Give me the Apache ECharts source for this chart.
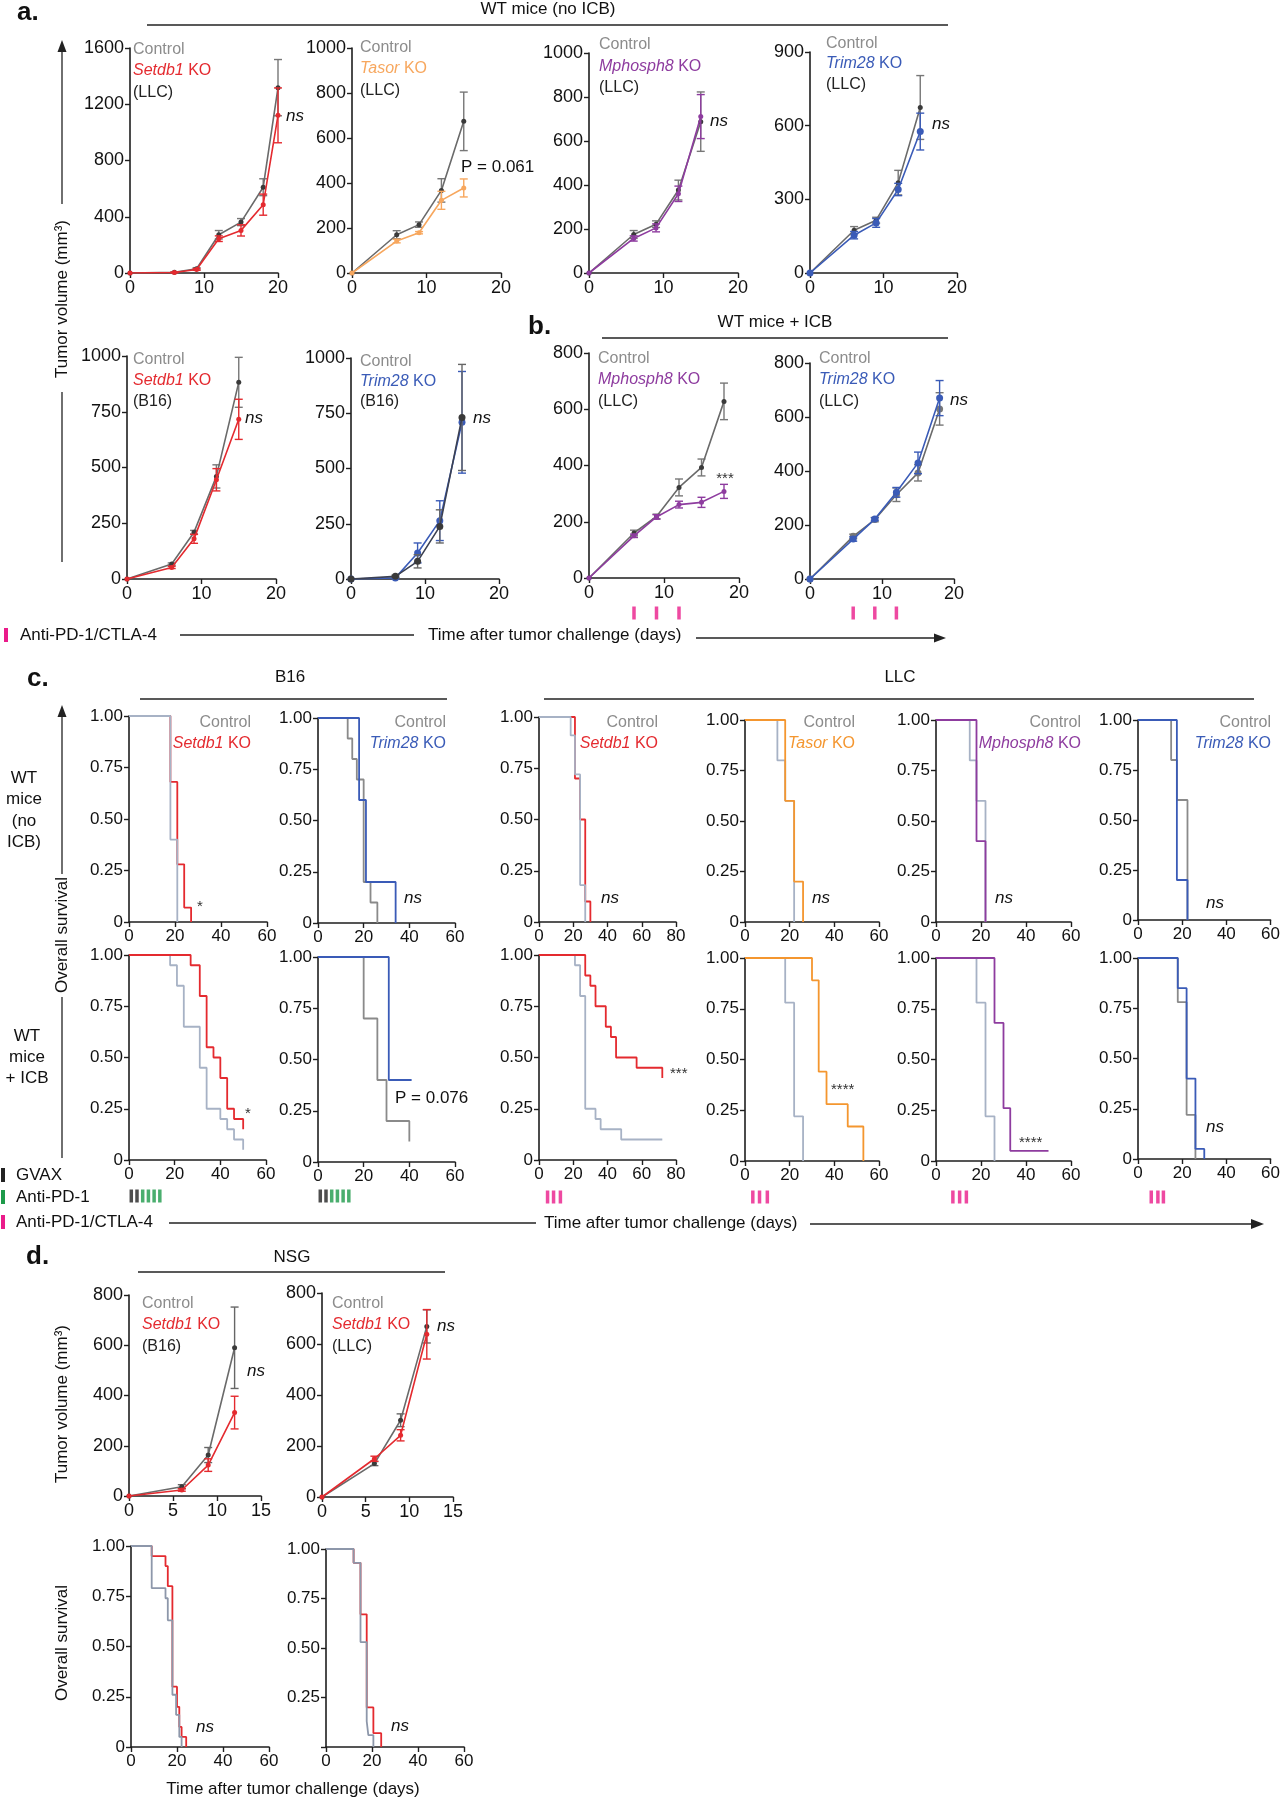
<!DOCTYPE html>
<html><head><meta charset="utf-8">
<script src="https://cdn.jsdelivr.net/npm/echarts@6/dist/echarts.min.js"></script>
<style>html,body{margin:0;padding:0;background:#fff}#c{width:1283px;height:1800px}</style>
</head><body><div id="c"></div>
<script>
// ---------------- DATA ----------------
// Panel a: tumour volume (mm3), WT mice (no ICB)
const a1Days = [0, 6, 9, 12, 15, 18, 20];
const a1Ctrl = [0, 5, 30, 272, 362, 610, 1318];
const a1CtrlErr = [0, 3, 8, 30, 25, 60, 200];
const a1KO = [0, 4, 25, 244, 303, 486, 1121];
const a1KOErr = [0, 3, 6, 20, 40, 75, 195];

const a2Days = [0, 6, 9, 12, 15];
const a2Ctrl = [0, 170, 215, 367, 674];
const a2CtrlErr = [0, 18, 12, 52, 130];
const a2KO = [0, 142, 179, 323, 378];
const a2KOErr = [0, 8, 5, 40, 40];

const a3Days = [0, 6, 9, 12, 15];
const a3Ctrl = [0, 175, 222, 377, 688];
const a3CtrlErr = [0, 18, 15, 45, 135];
const a3KO = [0, 157, 205, 360, 711];
const a3KOErr = [0, 12, 18, 35, 100];

const a4Days = [0, 6, 9, 12, 15];
const a4Ctrl = [0, 174, 215, 368, 674];
const a4CtrlErr = [0, 15, 12, 50, 130];
const a4KO = [0, 154, 204, 340, 576];
const a4KOErr = [0, 15, 18, 25, 75];

const a5Days = [0, 6, 9, 12, 15];
const a5Ctrl = [0, 67, 210, 460, 882];
const a5CtrlErr = [0, 5, 8, 52, 112];
const a5KO = [0, 52, 180, 445, 716];
const a5KOErr = [0, 5, 20, 50, 90];

const a6Days = [0, 6, 9, 12, 15];
const a6Ctrl = [0, 12, 80, 238, 731];
const a6CtrlErr = [0, 5, 30, 75, 240];
const a6KO = [0, 5, 118, 264, 709];
const a6KOErr = [0, 4, 45, 90, 230];

// Panel b: WT mice + ICB
const bDays = [0, 6, 9, 12, 15, 18];
const b1Ctrl = [0, 160, 219, 322, 393, 628];
const b1CtrlErr = [0, 10, 8, 30, 30, 65];
const b1KO = [0, 150, 217, 261, 269, 308];
const b1KOErr = [0, 6, 8, 12, 18, 25];
const b2Ctrl = [0, 158, 220, 312, 393, 630];
const b2CtrlErr = [0, 8, 8, 25, 30, 60];
const b2KO = [0, 148, 222, 321, 430, 670];
const b2KOErr = [0, 8, 5, 18, 40, 65];
const icbDaysB = [6, 9, 12];

// Panel c: Kaplan-Meier survival (time in days, survival fraction)
const c1CtrlT = [0, 18, 21];                 const c1CtrlS = [1, 0.4, 0];
const c1KOT = [0, 18, 21, 24, 27];           const c1KOS = [1, 0.68, 0.28, 0.07, 0];
const c2CtrlT = [0, 13, 15, 17, 20, 23, 26]; const c2CtrlS = [1, 0.9, 0.8, 0.7, 0.2, 0.1, 0];
const c2KOT = [0, 18, 21, 34];               const c2KOS = [1, 0.6, 0.2, 0];
const c3CtrlT = [0, 18.5, 21, 24, 27];       const c3CtrlS = [1, 0.91, 0.72, 0.18, 0];
const c3KOT = [0, 21, 24, 27, 30];           const c3KOS = [1, 0.7, 0.5, 0.1, 0];
const c4CtrlT = [0, 14.5, 18, 22];           const c4CtrlS = [1, 0.8, 0.6, 0];
const c4KOT = [0, 18, 22, 26];               const c4KOS = [1, 0.6, 0.2, 0];
const c5CtrlT = [0, 15, 18, 22];             const c5CtrlS = [1, 0.8, 0.6, 0];
const c5KOT = [0, 18, 22];                   const c5KOS = [1, 0.4, 0];
const c6CtrlT = [0, 15, 17.6, 22.4];         const c6CtrlS = [1, 0.8, 0.6, 0];
const c6KOT = [0, 17.6, 22.4];               const c6KOS = [1, 0.2, 0];
const c7CtrlT = [0, 18, 21, 24, 31, 34, 40, 43, 46, 50];
const c7CtrlS = [1, 0.95, 0.85, 0.65, 0.45, 0.25, 0.2, 0.15, 0.1, 0.05];
const c7KOT = [0, 27, 31, 34, 37, 40, 43, 46, 50];
const c7KOS = [1, 0.95, 0.8, 0.55, 0.5, 0.4, 0.25, 0.2, 0.15];
const c8CtrlT = [0, 20, 26, 30, 40];         const c8CtrlS = [1, 0.7, 0.4, 0.2, 0.1];
const c8KOT = [0, 31, 41];                   const c8KOS = [1, 0.4, 0.4];
const c9CtrlT = [0, 21, 24, 27, 33, 36, 48, 72];
const c9CtrlS = [1, 0.95, 0.8, 0.25, 0.2, 0.15, 0.1, 0.1];
const c9KOT = [0, 27, 30, 33, 39, 42, 45, 57, 72];
const c9KOS = [1, 0.9, 0.85, 0.75, 0.65, 0.6, 0.5, 0.45, 0.4];
const c10CtrlT = [0, 18, 22, 26];            const c10CtrlS = [1, 0.78, 0.22, 0];
const c10KOT = [0, 30, 33, 36.5, 46, 53];    const c10KOS = [1, 0.89, 0.44, 0.28, 0.17, 0];
const c11CtrlT = [0, 18, 22, 26];            const c11CtrlS = [1, 0.78, 0.22, 0];
const c11KOT = [0, 26, 30, 33, 50];          const c11KOS = [1, 0.68, 0.26, 0.05, 0.05];
const c12CtrlT = [0, 18, 22, 26];            const c12CtrlS = [1, 0.78, 0.22, 0];
const c12KOT = [0, 18, 22, 26, 30];          const c12KOS = [1, 0.85, 0.4, 0.05, 0];
const gvaxDays = [1, 3.5];
const pd1Days = [6, 8.5, 11, 13.5];
const icbDaysC9 = [5, 8.5, 12.5];
const icbDaysC10 = [3.5, 6.5, 10];
const icbDaysC11 = [7.5, 10.5, 13.5];
const icbDaysC12 = [6, 9, 11.5];

// Panel d: NSG mice
const dDays = [0, 6, 9, 12];
const d1Ctrl = [0, 37, 163, 590];  const d1CtrlErr = [0, 8, 30, 162];
const d1KO = [0, 24, 123, 332];    const d1KOErr = [0, 5, 25, 65];
const d2Ctrl = [0, 131, 301, 669]; const d2CtrlErr = [0, 8, 25, 65];
const d2KO = [0, 150, 242, 638];   const d2KOErr = [0, 10, 22, 97];
const d3CtrlT = [0, 9, 15, 16, 18, 19.6, 21, 22];
const d3CtrlS = [1, 0.79, 0.74, 0.63, 0.26, 0.16, 0.05, 0];
const d3KOT = [0, 9, 15, 16, 18, 20, 21, 22, 24];
const d3KOS = [1, 0.95, 0.9, 0.8, 0.3, 0.2, 0.1, 0.05, 0];
const d4CtrlT = [0, 12, 15, 17.7, 18.4, 20.6];
const d4CtrlS = [1, 0.93, 0.53, 0.13, 0.06, 0];
const d4KOT = [0, 12, 15, 17.7, 20.6, 24];
const d4KOS = [1, 0.93, 0.67, 0.2, 0.07, 0];

// ---------------- STYLE ----------------
const FONT = '"Liberation Sans", Arial, sans-serif';
const NARROW = FONT;
const LFS = 16;
const AX = '#1e1e1e';
const RED = '#e42a2f', ORANGE_A = '#f7a75e', ORANGE_C = '#f4962f', PURPLE = '#8e3c9f', BLUE = '#3a5bb7';
const CTRL = '#6a6a6a', CTRLPT = '#3a3a3a', KMLIGHT = '#a7b2c5', KMGRAY = '#8a8a8a', KMD = '#8d97aa';
const PINK = '#ea1b8a', GREEN = '#1d9a4a', BLK = '#222';
const CTRLTXT = '#8c8c8c';

const grids = [], xAxis = [], yAxis = [], series = [], graphic = [];
const plain = v => String(v);
const surv = v => v === 0 ? '0' : v.toFixed(2);
const survNo0 = v => v === 0 ? '' : v.toFixed(2);

function axisBase(fs, fmt) {
  return {
    type: 'value', splitLine: { show: false },
    axisLine: { show: true, onZero: false, lineStyle: { color: AX, width: 1.6 } },
    axisTick: { show: true, length: 5, lineStyle: { color: AX, width: 1.4 } },
    axisLabel: { color: '#111', fontSize: fs, fontFamily: FONT, margin: 6, formatter: fmt || plain, showMinLabel: true, showMaxLabel: true }
  };
}
function panel(box, xr, yr, o = {}) {
  const i = grids.length;
  grids.push({ left: box[0], top: box[1], width: box[2], height: box[3] });
  xAxis.push(Object.assign(axisBase(o.fs || 18, o.xfmt), { gridIndex: i, min: xr[0], max: xr[1], interval: xr[2] }));
  yAxis.push(Object.assign(axisBase(o.fs || 18, o.yfmt), { gridIndex: i, min: yr[0], max: yr[1], interval: yr[2] }));
  return i;
}
function growth(g, days, vals, errs, color, o = {}) {
  series.push({ type: 'line', xAxisIndex: g, yAxisIndex: g, data: days.map((d, i) => [d, vals[i]]),
    symbol: 'circle', symbolSize: o.ss || 5, lineStyle: { color, width: 1.6 }, itemStyle: { color: o.pt || color },
    z: o.z || 2, silent: true, animation: false });
  series.push({ type: 'custom', xAxisIndex: g, yAxisIndex: g, z: o.z || 2, silent: true, animation: false,
    data: days.map((d, i) => [d, vals[i] - errs[i], vals[i] + errs[i]]).filter(r => r[2] > r[1]),
    renderItem: (p, api) => {
      const lo = api.coord([api.value(0), api.value(1)]), hi = api.coord([api.value(0), api.value(2)]);
      const w = 4, st = { stroke: o.ec || color, lineWidth: 1.4 };
      return { type: 'group', children: [
        { type: 'line', shape: { x1: lo[0], y1: lo[1], x2: hi[0], y2: hi[1] }, style: st },
        { type: 'line', shape: { x1: lo[0] - w, y1: lo[1], x2: lo[0] + w, y2: lo[1] }, style: st },
        { type: 'line', shape: { x1: hi[0] - w, y1: hi[1], x2: hi[0] + w, y2: hi[1] }, style: st }] };
    } });
}
function km(g, t, s, color, z) {
  series.push({ type: 'line', step: 'end', xAxisIndex: g, yAxisIndex: g, data: t.map((x, i) => [x, s[i]]),
    symbol: 'none', showSymbol: false, lineStyle: { color, width: 1.8 }, z: z || 2, silent: true, animation: false });
}
function marks(g, days, color, off) {
  series.push({ type: 'scatter', xAxisIndex: g, yAxisIndex: g, data: days.map(d => [d, 0]), symbol: 'rect',
    symbolSize: [3.5, 13], symbolOffset: [0, off], itemStyle: { color }, clip: false, silent: true, z: 5, animation: false });
}
function T(x, y, text, o = {}) {
  const fs = o.fs || 17, ff = o.ff || FONT, c = o.c || '#111';
  const st = { text, fill: c, fontSize: fs, fontFamily: ff, fontStyle: o.it ? 'italic' : 'normal',
    fontWeight: o.b ? 'bold' : 'normal', align: o.al || 'left', verticalAlign: o.va || 'middle',
    textAlign: o.al || 'left', textVerticalAlign: o.va || 'middle' };
  if (o.rich) st.rich = o.rich;
  graphic.push({ type: 'text', x, y, rotation: o.rot || 0, z: 100, silent: true, style: st });
}
function L(x1, y1, x2, y2, o = {}) {
  graphic.push({ type: 'line', silent: true, z: 100, shape: { x1, y1, x2, y2 }, style: { stroke: o.c || '#222', lineWidth: o.w || 1.4 } });
}
function poly(pts, c) { graphic.push({ type: 'polygon', silent: true, z: 100, shape: { points: pts }, style: { fill: c || '#222' } }); }
function rect(x, y, w, h, c) { graphic.push({ type: 'rect', silent: true, z: 100, shape: { x, y, width: w, height: h }, style: { fill: c } }); }
function geneText(gene, color, fs, ff) {
  return { text: '{i|' + gene + '} KO', rich: { i: { fontStyle: 'italic', fill: color, fontSize: fs, fontFamily: ff } } };
}
function legendA(x, ys, gene, color, line3) {
  T(x, ys[0], 'Control', { c: CTRLTXT, ff: NARROW, fs: LFS });
  const g = geneText(gene, color, LFS, NARROW);
  T(x, ys[1], g.text, { c: color, ff: NARROW, fs: LFS, rich: g.rich });
  T(x, ys[2], line3, { c: '#222', ff: NARROW, fs: LFS });
}
function legendC(xr, gene, color) {
  T(xr, 723, 'Control', { c: CTRLTXT, ff: NARROW, fs: LFS, al: 'right' });
  const g = geneText(gene, color, LFS, NARROW);
  T(xr, 744, g.text, { c: color, ff: NARROW, fs: LFS, al: 'right', rich: g.rich });
}

// ---------------- PANEL a ----------------
T(17, 13, 'a.', { fs: 26, b: true });
T(548, 9, 'WT mice (no ICB)', { al: 'center' });
L(147, 25, 948, 25);
L(62, 48, 62, 204, { w: 1.3 }); poly([[62, 40], [57.5, 52], [66.5, 52]]);
T(62, 299, 'Tumor volume (mm³)', { rot: Math.PI / 2, al: 'center' });
L(62, 392, 62, 562, { w: 1.3 });

const gA1 = panel([130, 48, 148, 225], [0, 20, 10], [0, 1600, 400]);
growth(gA1, a1Days, a1Ctrl, a1CtrlErr, CTRL, { pt: CTRLPT, ec: '#777' });
growth(gA1, a1Days, a1KO, a1KOErr, RED, { z: 3 });
legendA(133, [50, 71, 93], 'Setdb1', RED, '(LLC)');
T(286, 116, 'ns', { it: true });

const gA2 = panel([352, 48, 149, 225], [0, 20, 10], [0, 1000, 200]);
growth(gA2, a2Days, a2Ctrl, a2CtrlErr, CTRL, { pt: CTRLPT, ec: '#777' });
growth(gA2, a2Days, a2KO, a2KOErr, ORANGE_A, { z: 3 });
legendA(360, [48, 69, 91], 'Tasor', ORANGE_A, '(LLC)');
T(461, 167, 'P = 0.061');

const gA3 = panel([589, 53, 149, 220], [0, 20, 10], [0, 1000, 200]);
growth(gA3, a3Days, a3Ctrl, a3CtrlErr, CTRL, { pt: CTRLPT, ec: '#777' });
growth(gA3, a3Days, a3KO, a3KOErr, PURPLE, { z: 3 });
legendA(599, [45, 67, 88], 'Mphosph8', PURPLE, '(LLC)');
T(710, 121, 'ns', { it: true });

const gA4 = panel([810, 52, 147, 221], [0, 20, 10], [0, 900, 300]);
growth(gA4, a4Days, a4Ctrl, a4CtrlErr, CTRL, { pt: CTRLPT, ec: '#777' });
growth(gA4, a4Days, a4KO, a4KOErr, BLUE, { z: 3, ss: 7 });
legendA(826, [44, 64, 85], 'Trim28', BLUE, '(LLC)');
T(932, 124, 'ns', { it: true });

const gA5 = panel([127, 356, 149, 223], [0, 20, 10], [0, 1000, 250]);
growth(gA5, a5Days, a5Ctrl, a5CtrlErr, CTRL, { pt: CTRLPT, ec: '#777' });
growth(gA5, a5Days, a5KO, a5KOErr, RED, { z: 3 });
legendA(133, [360, 381, 402], 'Setdb1', RED, '(B16)');
T(245, 418, 'ns', { it: true });

const gA6 = panel([351, 358, 148, 221], [0, 20, 10], [0, 1000, 250]);
growth(gA6, a6Days, a6KO, a6KOErr, BLUE, { ss: 7 });
growth(gA6, a6Days, a6Ctrl, a6CtrlErr, '#3c4152', { pt: CTRLPT, ec: '#666', z: 3, ss: 7 });
legendA(360, [362, 382, 402], 'Trim28', BLUE, '(B16)');
T(473, 418, 'ns', { it: true });

// row legend / axis title
rect(4, 628, 4, 14, PINK);
T(20, 635, 'Anti-PD-1/CTLA-4');
L(180, 635, 414, 635);
T(428, 635, 'Time after tumor challenge (days)');
L(696, 638, 936, 638); poly([[946, 638], [934, 633.5], [934, 642.5]]);

// ---------------- PANEL b ----------------
T(528, 327, 'b.', { fs: 26, b: true });
T(775, 322, 'WT mice + ICB', { al: 'center' });
L(602, 338, 948, 338);

const gB1 = panel([589, 353, 150, 225], [0, 20, 10], [0, 800, 200]);
growth(gB1, bDays, b1Ctrl, b1CtrlErr, CTRL, { pt: CTRLPT, ec: '#777' });
growth(gB1, bDays, b1KO, b1KOErr, PURPLE, { z: 3 });
marks(gB1, icbDaysB, PINK, 35);
legendA(598, [359, 380, 402], 'Mphosph8', PURPLE, '(LLC)');
T(725, 479, '***', { al: 'center', fs: 15, c: '#333' });

const gB2 = panel([810, 363, 144, 216], [0, 20, 10], [0, 800, 200]);
growth(gB2, bDays, b2Ctrl, b2CtrlErr, CTRL, { pt: '#777', ec: '#777', ss: 7 });
growth(gB2, bDays, b2KO, b2KOErr, BLUE, { z: 3, ss: 7 });
marks(gB2, icbDaysB, PINK, 34);
legendA(819, [359, 380, 402], 'Trim28', BLUE, '(LLC)');
T(950, 400, 'ns', { it: true });

// ---------------- PANEL c ----------------
T(27, 679, 'c.', { fs: 26, b: true });
T(290, 677, 'B16', { al: 'center' });
L(140, 699, 447, 699);
T(900, 677, 'LLC', { al: 'center' });
L(544, 699, 1254, 699);
['WT', 'mice', '(no', 'ICB)'].forEach((s, i) => T(24, 778 + i * 21.5, s, { al: 'center' }));
['WT', 'mice', '+ ICB'].forEach((s, i) => T(27, 1036 + i * 21, s, { al: 'center' }));
L(62, 715, 62, 874, { w: 1.3 }); poly([[62, 705], [57.5, 717], [66.5, 717]]);
T(62, 935, 'Overall survival', { rot: Math.PI / 2, al: 'center' });
L(62, 997, 62, 1158, { w: 1.3 });

const SO = { fs: 17, yfmt: surv };
const gC1 = panel([129, 716, 138, 206], [0, 60, 20], [0, 1, 0.25], SO);
km(gC1, c1KOT, c1KOS, RED); km(gC1, c1CtrlT, c1CtrlS, KMLIGHT, 3);
legendC(251, 'Setdb1', RED); T(200, 907, '*', { fs: 15, c: '#333', al: 'center' });

const gC2 = panel([318, 718, 137, 205], [0, 60, 20], [0, 1, 0.25], SO);
km(gC2, c2CtrlT, c2CtrlS, KMGRAY); km(gC2, c2KOT, c2KOS, BLUE, 3);
legendC(446, 'Trim28', BLUE); T(404, 898, 'ns', { it: true });

const gC3 = panel([539, 717, 137, 205], [0, 80, 20], [0, 1, 0.25], SO);
km(gC3, c3KOT, c3KOS, RED); km(gC3, c3CtrlT, c3CtrlS, KMLIGHT, 3);
legendC(658, 'Setdb1', RED); T(601, 898, 'ns', { it: true });

const gC4 = panel([745, 720, 134, 202], [0, 60, 20], [0, 1, 0.25], SO);
km(gC4, c4CtrlT, c4CtrlS, KMLIGHT); km(gC4, c4KOT, c4KOS, ORANGE_C, 3);
legendC(855, 'Tasor', ORANGE_C); T(812, 898, 'ns', { it: true });

const gC5 = panel([936, 720, 135, 202], [0, 60, 20], [0, 1, 0.25], SO);
km(gC5, c5CtrlT, c5CtrlS, KMLIGHT); km(gC5, c5KOT, c5KOS, PURPLE, 3);
legendC(1081, 'Mphosph8', PURPLE); T(995, 898, 'ns', { it: true });

const gC6 = panel([1138, 720, 135, 200], [0, 60, 20], [0, 1, 0.25], SO);
km(gC6, c6CtrlT, c6CtrlS, KMGRAY); km(gC6, c6KOT, c6KOS, BLUE, 3);
legendC(1271, 'Trim28', BLUE); T(1206, 903, 'ns', { it: true });

const gC7 = panel([129, 955, 137, 205], [0, 60, 20], [0, 1, 0.25], SO);
km(gC7, c7CtrlT, c7CtrlS, KMLIGHT); km(gC7, c7KOT, c7KOS, RED, 3);
marks(gC7, gvaxDays, BLK, 36); marks(gC7, pd1Days, GREEN, 36);
T(248, 1114, '*', { fs: 15, c: '#333', al: 'center' });

const gC8 = panel([318, 957, 137, 205], [0, 60, 20], [0, 1, 0.25], SO);
km(gC8, c8CtrlT, c8CtrlS, KMGRAY); km(gC8, c8KOT, c8KOS, BLUE, 3);
marks(gC8, gvaxDays, BLK, 34); marks(gC8, pd1Days, GREEN, 34);
T(395, 1098, 'P = 0.076');

const gC9 = panel([539, 955, 137, 205], [0, 80, 20], [0, 1, 0.25], SO);
km(gC9, c9CtrlT, c9CtrlS, KMLIGHT); km(gC9, c9KOT, c9KOS, RED, 3);
marks(gC9, icbDaysC9, PINK, 37);
T(670, 1074, '***', { fs: 15, c: '#333' });

const gC10 = panel([745, 958, 134, 203], [0, 60, 20], [0, 1, 0.25], SO);
km(gC10, c10CtrlT, c10CtrlS, KMLIGHT); km(gC10, c10KOT, c10KOS, ORANGE_C, 3);
marks(gC10, icbDaysC10, PINK, 36);
T(831, 1090, '****', { fs: 15, c: '#333' });

const gC11 = panel([936, 958, 135, 203], [0, 60, 20], [0, 1, 0.25], SO);
km(gC11, c11CtrlT, c11CtrlS, KMLIGHT); km(gC11, c11KOT, c11KOS, PURPLE, 3);
marks(gC11, icbDaysC11, PINK, 36);
T(1019, 1143, '****', { fs: 15, c: '#333' });

const gC12 = panel([1138, 958, 135, 201], [0, 60, 20], [0, 1, 0.25], SO);
km(gC12, c12CtrlT, c12CtrlS, KMGRAY); km(gC12, c12KOT, c12KOS, BLUE, 3);
marks(gC12, icbDaysC12, PINK, 38);
T(1206, 1127, 'ns', { it: true });

rect(1, 1168, 4, 14, BLK);   T(16, 1175, 'GVAX');
rect(1, 1190, 4, 14, GREEN); T(16, 1197, 'Anti-PD-1');
rect(1, 1215, 4, 14, PINK);  T(16, 1222, 'Anti-PD-1/CTLA-4');
L(169, 1223, 536, 1223);
T(544, 1223, 'Time after tumor challenge (days)');
L(810, 1224, 1252, 1224); poly([[1264, 1224], [1251, 1219], [1251, 1229]]);

// ---------------- PANEL d ----------------
T(26, 1257, 'd.', { fs: 26, b: true });
T(292, 1257, 'NSG', { al: 'center' });
L(138, 1272, 445, 1272);
T(62, 1404, 'Tumor volume (mm³)', { rot: Math.PI / 2, al: 'center' });
T(62, 1643, 'Overall survival', { rot: Math.PI / 2, al: 'center' });
T(293, 1789, 'Time after tumor challenge (days)', { al: 'center' });

const gD1 = panel([129, 1295, 132, 201], [0, 15, 5], [0, 800, 200]);
growth(gD1, dDays, d1Ctrl, d1CtrlErr, CTRL, { pt: CTRLPT, ec: '#666' });
growth(gD1, dDays, d1KO, d1KOErr, RED, { z: 3 });
legendA(142, [1304, 1325, 1347], 'Setdb1', RED, '(B16)');
T(247, 1371, 'ns', { it: true });

const gD2 = panel([322, 1293, 131, 204], [0, 15, 5], [0, 800, 200]);
growth(gD2, dDays, d2Ctrl, d2CtrlErr, CTRL, { pt: CTRLPT, ec: '#666' });
growth(gD2, dDays, d2KO, d2KOErr, RED, { z: 3 });
legendA(332, [1304, 1325, 1347], 'Setdb1', RED, '(LLC)');
T(437, 1326, 'ns', { it: true });

const gD3 = panel([131, 1546, 138, 201], [0, 60, 20], [0, 1, 0.25], SO);
km(gD3, d3KOT, d3KOS, RED); km(gD3, d3CtrlT, d3CtrlS, KMD, 3);
T(196, 1727, 'ns', { it: true });

const gD4 = panel([326, 1549, 138, 198], [0, 60, 20], [0, 1, 0.25], { fs: 17, yfmt: survNo0 });
km(gD4, d4KOT, d4KOS, RED); km(gD4, d4CtrlT, d4CtrlS, KMD, 3);
T(391, 1726, 'ns', { it: true });

// ---------------- RENDER ----------------
const chart = echarts.init(document.getElementById('c'), null, { renderer: 'canvas' });
chart.setOption({
  animation: false, backgroundColor: '#fff',
  textStyle: { fontFamily: FONT },
  grid: grids, xAxis, yAxis, series, graphic
});
</script></body></html>
